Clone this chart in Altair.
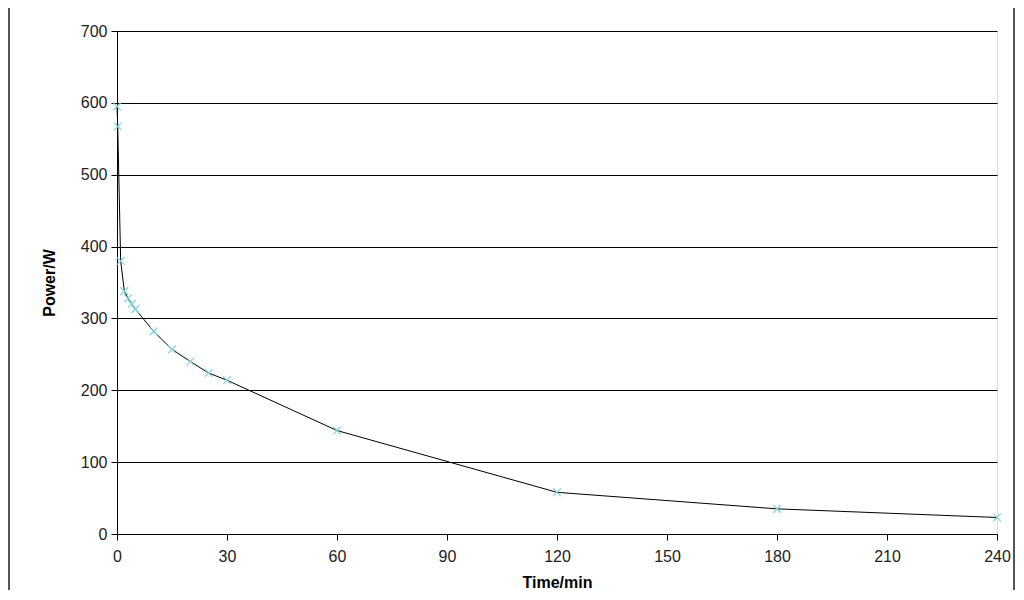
import altair as alt
import pandas as pd

# Data
times = [0, 0.2, 1, 2, 3, 4, 5, 10, 15, 20, 25, 30, 60, 120, 180, 240]
power = [595, 567, 380, 338, 328, 320, 313, 282, 257, 240, 224, 214, 144, 58, 35, 23]
x_ticks = [0, 30, 60, 90, 120, 150, 180, 210, 240]
y_ticks = [0, 100, 200, 300, 400, 500, 600, 700]

df = pd.DataFrame({"t": times, "p": power, "idx": list(range(len(times)))})

FONT = "Liberation Sans"

x_enc = alt.X("t:Q", scale=alt.Scale(domain=[0, 240], nice=False, zero=True),
              axis=alt.Axis(values=x_ticks, title="Time/min", grid=False,
                            tickSize=6, labelPadding=8, titlePadding=10,
                            labelFontSize=16, titleFontSize=16, titleFontWeight="bold",
                            labelColor="#222", titleColor="#000", domainColor="#000",
                            tickColor="#000", labelFont=FONT, titleFont=FONT,
                            labelFlush=False))
y_enc = alt.Y("p:Q", scale=alt.Scale(domain=[0, 700], nice=False),
              axis=alt.Axis(values=y_ticks, title="Power/W", grid=True,
                            gridColor="#000", gridOpacity=1, gridWidth=1,
                            tickSize=6, labelPadding=4, titlePadding=23,
                            labelFontSize=16, titleFontSize=16, titleFontWeight="bold",
                            labelColor="#222", titleColor="#000", domainColor="#000",
                            tickColor="#000", labelFont=FONT, titleFont=FONT))

line = alt.Chart(df).mark_line(color="#000", strokeWidth=1).encode(
    x=x_enc, y=y_enc, order=alt.Order("idx:Q"))

pts = alt.Chart(df).mark_point(
    shape="M-1,-1L1,1M-1,1L1,-1", size=60, filled=False,
    color="#7fd3dd", strokeWidth=1.2, opacity=1).encode(x="t:Q", y="p:Q")

frame_l = alt.Chart(df).mark_rule(color="#555", strokeWidth=1, clip=False).encode(
    x=alt.value(-108), y=alt.value(-30), y2=alt.value(570))
frame_r = alt.Chart(df).mark_rule(color="#555", strokeWidth=1, clip=False).encode(
    x=alt.value(897), y=alt.value(-30), y2=alt.value(570))

chart = alt.layer(line, pts, frame_l, frame_r).properties(
    width=880, height=503,
    padding={"left": 109, "top": 23, "right": 19, "bottom": 56},
    autosize=alt.AutoSizeParams(type="none"),
).configure_view(stroke="#555", strokeWidth=1).configure(background="white")

chart.save("out.html", embed_options={"renderer": "svg", "actions": False})
